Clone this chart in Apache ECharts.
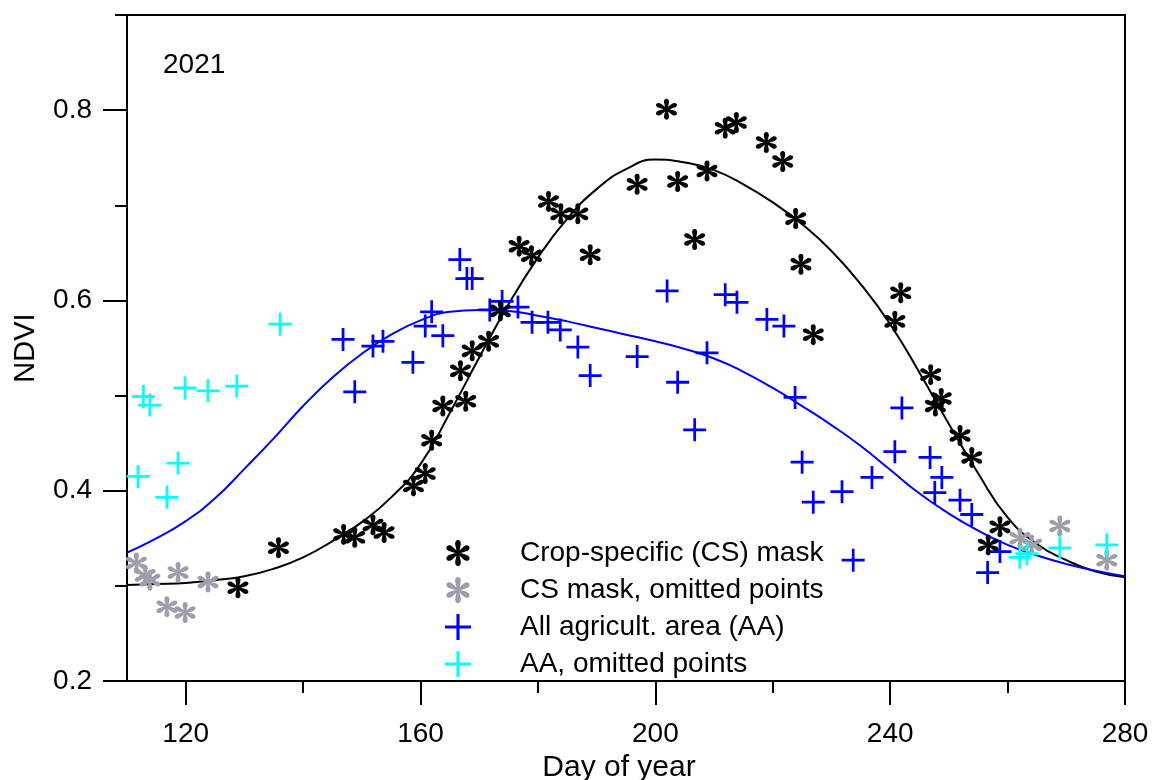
<!DOCTYPE html>
<html>
<head>
<meta charset="utf-8">
<script src="https://cdn.jsdelivr.net/npm/echarts@6/dist/echarts.min.js"></script>
<style>
html,body{margin:0;padding:0;background:#fff;}
#chart{width:1153px;height:780px;}
</style>
</head>
<body>
<div id="chart"></div>
<script>
// ---------- data (day of year, NDVI) ----------
const csMask = [
  [128.9,0.298],[135.8,0.340],[146.9,0.354],[148.8,0.351],[151.9,0.364],[153.8,0.356],
  [158.8,0.405],[160.8,0.418],[161.9,0.453],[163.8,0.489],[166.8,0.526],[167.7,0.494],
  [168.8,0.547],[171.6,0.557],[173.6,0.589],[176.8,0.657],[178.9,0.647],[181.8,0.704],
  [183.9,0.691],[186.8,0.691],[188.9,0.648],[196.9,0.722],[201.9,0.801],[203.8,0.725],
  [206.7,0.664],[208.8,0.736],[211.9,0.781],[213.8,0.787],[218.9,0.766],[221.7,0.746],
  [223.9,0.686],[224.8,0.638],[226.9,0.564],[240.8,0.578],[241.8,0.608],[246.9,0.522],
  [247.7,0.489],[248.7,0.497],[251.9,0.458],[253.9,0.435],[256.7,0.343],[258.7,0.362]
];
const csOmitted = [
  [111.6,0.324],[113.1,0.311],[113.9,0.306],[116.8,0.278],[118.7,0.314],[119.9,0.272],
  [123.8,0.304],[262.1,0.350],[264.1,0.343],[268.9,0.363],[276.9,0.327]
];
const aaAll = [
  [146.8,0.559],[148.8,0.504],[151.9,0.552],[153.6,0.557],[158.7,0.535],[160.8,0.573],
  [161.9,0.588],[163.8,0.563],[166.7,0.643],[167.9,0.623],[168.8,0.623],[171.8,0.590],
  [173.9,0.599],[176.6,0.593],[179.0,0.577],[181.7,0.577],[183.8,0.569],[186.8,0.551],
  [188.9,0.521],[196.9,0.541],[202.0,0.610],[203.8,0.514],[206.7,0.464],[208.8,0.545],
  [211.9,0.606],[213.9,0.598],[219.0,0.580],[221.9,0.573],[223.8,0.498],[225.0,0.430],
  [226.9,0.388],[231.8,0.399],[233.7,0.327],[236.9,0.414],[240.8,0.441],[242.0,0.487],
  [246.8,0.435],[247.6,0.398],[248.8,0.414],[251.9,0.390],[253.9,0.375],[256.6,0.314],
  [258.7,0.336]
];
const aaOmitted = [
  [111.9,0.415],[112.8,0.499],[113.9,0.490],[116.8,0.393],[118.7,0.429],[119.9,0.508],
  [123.8,0.505],[128.7,0.510],[136.1,0.575],[262.1,0.330],[263.3,0.334],[268.9,0.340],
  [276.9,0.343]
];
// fitted curves, every 5 days
const fitDays = [110,115,120,125,130,135,140,145,150,155,160,165,170,175,180,185,190,195,
  200,205,210,215,220,225,230,235,240,245,250,255,260,265,270,275,280];
const csFitValues = [0.301,0.302,0.303,0.306,0.310,0.318,0.330,0.347,0.367,0.393,0.428,0.482,
  0.540,0.596,0.645,0.686,0.717,0.738,0.748,0.745,0.737,0.722,0.703,0.680,0.652,0.617,0.575,
  0.524,0.470,0.418,0.372,0.344,0.327,0.315,0.309];
const aaFitValues = [0.335,0.350,0.368,0.392,0.423,0.455,0.489,0.519,0.544,0.564,0.579,0.588,
  0.590,0.589,0.584,0.578,0.571,0.564,0.557,0.549,0.539,0.525,0.508,0.489,0.469,0.447,0.422,
  0.397,0.376,0.358,0.343,0.332,0.323,0.316,0.310];
const xMajorTicks = [120,160,200,240,280];
const xMinorTicks = [140,180,220,260];
const yMajorTicks = [0.2,0.4,0.6,0.8];
const yMinorTicks = [0.3,0.5,0.7,0.9];
const legendNames = ['Crop-specific (CS) mask','CS mask, omitted points','All agricult. area (AA)','AA, omitted points'];
const yearLabel = '2021';

const csFit = fitDays.map((d,i)=>[d,csFitValues[i]]);
const aaFit = fitDays.map((d,i)=>[d,aaFitValues[i]]);

// ---------- symbols ----------
function starPath(){
  const parts=[];
  for(let k=0;k<6;k++){
    const a=(90+k*60)*Math.PI/180;
    const u=[Math.cos(a),-Math.sin(a)];
    const v=[-u[1],u[0]];
    const P=(s,t)=>(50+s*u[0]+t*v[0]).toFixed(2)+' '+(50+s*u[1]+t*v[1]).toFixed(2);
    parts.push('M'+P(0,-3.5)+' L'+P(28,-9.5)+' C'+P(52,-14)+' '+P(52,14)+' '+P(28,9.5)+' L'+P(0,3.5)+' Z');
  }
  return 'path://'+parts.join(' ');
}
const STAR = starPath();
const PLUS = 'path://M0 44 L100 44 L100 56 L0 56 Z M44 0 L56 0 L56 100 L44 100 Z';

const FONT = 'Liberation Sans, Arial, sans-serif';
const chart = echarts.init(document.getElementById('chart'), null, {renderer:'canvas'});
const axisLineStyle = {color:'#000', width:2};

chart.setOption({
  animation:false,
  backgroundColor:'#fff',
  title:{text:yearLabel, left:158, top:46, textStyle:{fontFamily:FONT,fontSize:28,fontWeight:'normal',color:'#000'}},
  grid:{left:127,right:28,top:15,bottom:99,show:true,borderColor:'#000',borderWidth:2,
        containLabel:false,outerBoundsMode:'none'},
  legend:{
    orient:'vertical', left:440, top:534, itemWidth:30, itemHeight:26, itemGap:9,
    selectedMode:false,
    textStyle:{fontFamily:FONT,fontSize:28,color:'#000',lineHeight:28,padding:[0,0,0,42]},
    data:[
      {name:legendNames[0],icon:STAR},
      {name:legendNames[1],icon:STAR},
      {name:legendNames[2],icon:PLUS},
      {name:legendNames[3],icon:PLUS}
    ]
  },
  xAxis:[
    {type:'value',min:110,max:280,position:'bottom',
     name:'Day of year',nameLocation:'middle',nameGap:71,
     nameTextStyle:{fontFamily:FONT,fontSize:30,color:'#000',padding:[0,14,0,0]},
     axisLine:{show:true,lineStyle:axisLineStyle},
     axisTick:{show:true,inside:false,length:24,customValues:xMajorTicks,lineStyle:axisLineStyle},
     axisLabel:{show:true,customValues:xMajorTicks,margin:39,fontFamily:FONT,fontSize:28,color:'#000'},
     splitLine:{show:false}},
    {type:'value',min:110,max:280,position:'bottom',gridIndex:0,
     axisLine:{show:false},
     axisTick:{show:true,inside:false,length:12,customValues:xMinorTicks,lineStyle:axisLineStyle},
     axisLabel:{show:false},
     splitLine:{show:false}}
  ],
  yAxis:[
    {type:'value',min:0.2,max:0.9,position:'left',
     name:'NDVI',nameLocation:'middle',nameGap:87,nameRotate:90,
     nameTextStyle:{fontFamily:FONT,fontSize:29,color:'#000'},
     axisLine:{show:true,lineStyle:axisLineStyle},
     axisTick:{show:true,inside:false,length:24,customValues:yMajorTicks,lineStyle:axisLineStyle},
     axisLabel:{show:true,customValues:yMajorTicks,margin:35,fontFamily:FONT,fontSize:28,color:'#000',
       formatter:v=>v.toFixed(1)},
     splitLine:{show:false}},
    {type:'value',min:0.2,max:0.9,position:'left',offset:0,gridIndex:0,
     axisLine:{show:false},
     axisTick:{show:true,inside:false,length:12,customValues:yMinorTicks,lineStyle:axisLineStyle},
     axisLabel:{show:false},
     splitLine:{show:false}}
  ],
  series:[
    {name:'CS fit',type:'line',data:csFit,smooth:true,showSymbol:false,symbol:'none',
     lineStyle:{color:'#000',width:2},itemStyle:{color:'#000'},z:2,silent:true},
    {name:'AA fit',type:'line',data:aaFit,smooth:true,showSymbol:false,symbol:'none',
     lineStyle:{color:'#0000ff',width:2},itemStyle:{color:'#0000ff'},z:2,silent:true},
    {name:legendNames[1],type:'scatter',data:csOmitted,symbol:STAR,symbolSize:21,
     itemStyle:{color:'#9d9dab',opacity:1},z:3},
    {name:legendNames[3],type:'scatter',data:aaOmitted,symbol:PLUS,symbolSize:23,
     itemStyle:{color:'#00ffff',opacity:1},z:3},
    {name:legendNames[2],type:'scatter',data:aaAll,symbol:PLUS,symbolSize:23,
     itemStyle:{color:'#0000ff',opacity:1},z:4},
    {name:legendNames[0],type:'scatter',data:csMask,symbol:STAR,symbolSize:21,
     itemStyle:{color:'#000',opacity:1},z:5}
  ]
});
</script>
</body>
</html>
